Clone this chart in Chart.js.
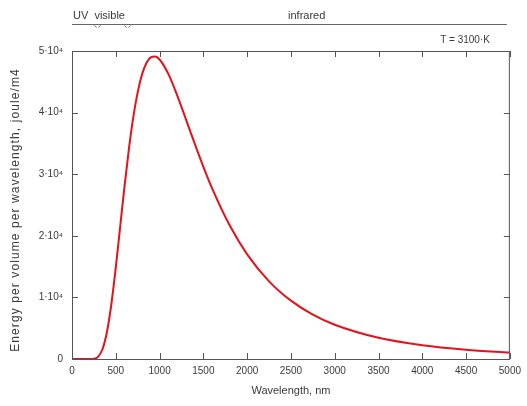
<!DOCTYPE html>
<html>
<head>
<meta charset="utf-8">
<script src="https://cdn.jsdelivr.net/npm/chart.js@4"></script>
<style>
  html, body { margin: 0; padding: 0; background: #fff; }
  #wrap { width: 527px; height: 406px; }
</style>
</head>
<body>
<div id="wrap"><canvas id="c" width="527" height="406"></canvas></div>
<script>
// Rayonnement du corps noir, T = 3100 K
var wavelengths = [0, 100, 200, 250, 300, 350, 400, 450, 500, 550, 600, 650, 700, 750, 800, 850, 900, 950, 1000,
  1100, 1200, 1300, 1400, 1500, 1600, 1800, 2000, 2250, 2500, 2750, 3000, 3500, 4000, 4500, 5000];
var energy = [0, 0, 0, 40, 390, 1660, 4460, 8970, 14860, 21460, 28070, 34120, 39250, 43290, 46200, 48050, 48980, 49110, 48620,
  46280, 42840, 38950, 34990, 31200, 27700, 21700, 16990, 12610, 9470, 7200, 5560, 3440, 2230, 1500, 1040];
var xTicks = [0, 500, 1000, 1500, 2000, 2500, 3000, 3500, 4000, 4500, 5000];
var yTicks = [0, 10000, 20000, 30000, 40000, 50000];
var bandEdges = [290, 630];           // limites UV / visible / infrarouge sur le bandeau
var bandLabels = ["UV", "visible", "infrared"];
var tempLabel = "T = 3100\u00b7K";
var yTitle = "Energy per volume per wavelength, joule/m4";

var FONT = "'Liberation Sans', Arial, sans-serif";
var TXT = "#3a3a3a", CADRE = "#555", ROUGE = "#e4121b";

var cadre = {
  id: "cadre",
  afterDraw: function (chart) {
    var ctx = chart.ctx, a = chart.chartArea, sx = chart.scales.x, sy = chart.scales.y;
    ctx.save();
    ctx.strokeStyle = CADRE; ctx.lineWidth = 1;
    ctx.strokeRect(a.left + 0.5, a.top + 0.5, a.right - a.left - 1, a.bottom - a.top);
    // graduations intérieures
    ctx.beginPath();
    xTicks.forEach(function (v) {
      var px = Math.round(sx.getPixelForValue(v)) + 0.5;
      ctx.moveTo(px, a.bottom); ctx.lineTo(px, a.bottom - 6);
      ctx.moveTo(px, a.top); ctx.lineTo(px, a.top + 6);
    });
    yTicks.forEach(function (v) {
      var py = Math.round(sy.getPixelForValue(v)) + 0.5;
      ctx.moveTo(a.left, py); ctx.lineTo(a.left + 6, py);
      ctx.moveTo(a.right, py); ctx.lineTo(a.right - 6, py);
    });
    ctx.stroke();

    // bandeau du haut
    var yb = 24.5;
    ctx.strokeStyle = "#666";
    ctx.beginPath(); ctx.moveTo(a.left, yb); ctx.lineTo(a.right - 3, yb); ctx.stroke();
    ctx.beginPath();
    bandEdges.forEach(function (v) {
      var px = Math.round(sx.getPixelForValue(v)) + 0.5;
      ctx.moveTo(px - 3, yb + 1); ctx.lineTo(px - 1, yb + 3);
      ctx.moveTo(px + 3, yb + 1); ctx.lineTo(px + 1, yb + 3);
    });
    ctx.stroke();
    ctx.fillStyle = TXT;
    ctx.font = "11px " + FONT;
    ctx.textBaseline = "alphabetic";
    ctx.textAlign = "left";
    ctx.fillText(bandLabels[0], a.left + 1, 19);
    ctx.fillText(bandLabels[1], sx.getPixelForValue(bandEdges[0]) - 3, 19);
    ctx.textAlign = "center";
    ctx.fillText(bandLabels[2], sx.getPixelForValue(2680), 19);
    ctx.textAlign = "right";
    ctx.font = "10px " + FONT;
    ctx.fillText(tempLabel, a.right - 20, 43);

    // titre de l'axe y, lettres espacées comme sur l'original
    ctx.translate(16, (a.top + a.bottom) / 2 + 5);
    ctx.rotate(-Math.PI / 2);
    ctx.font = "12px " + FONT;
    ctx.letterSpacing = "1.1px";
    ctx.textAlign = "center";
    ctx.textBaseline = "middle";
    ctx.fillText(yTitle, 0, 0);
    ctx.restore();
  }
};

new Chart(document.getElementById("c"), {
  type: "line",
  data: {
    datasets: [{
      data: wavelengths.map(function (w, i) { return { x: w, y: energy[i] }; }),
      borderColor: ROUGE, borderWidth: 2, pointRadius: 0,
      cubicInterpolationMode: "monotone", fill: false
    }]
  },
  options: {
    responsive: false, animation: false,
    layout: { padding: { top: 51, right: 9, left: 0, bottom: 0 } },
    plugins: { legend: { display: false }, tooltip: { enabled: false } },
    scales: {
      x: {
        type: "linear", min: 0, max: 5000,
        afterBuildTicks: function (s) { s.ticks = xTicks.map(function (v) { return { value: v }; }); },
        afterFit: function (s) { s.height = 47; },
        grid: { drawOnChartArea: false, drawTicks: false },
        border: { display: false },
        ticks: {
          color: TXT, font: { size: 10, family: FONT }, padding: 6, maxRotation: 0, autoSkip: false,
          callback: function (v) { return String(v); }
        },
        title: { display: true, text: "Wavelength, nm", color: TXT, font: { size: 11, family: FONT }, padding: { top: 0, bottom: 8 } }
      },
      y: {
        min: 0, max: 50000,
        afterBuildTicks: function (s) { s.ticks = yTicks.map(function (v) { return { value: v }; }); },
        afterFit: function (s) { s.width = 72; },
        grid: { drawOnChartArea: false, drawTicks: false },
        border: { display: false },
        ticks: {
          color: TXT, font: { size: 10, family: FONT }, padding: 9,
          callback: function (v) { return v === 0 ? "0" : (v / 10000) + "\u00b710\u2074"; }
        },
        title: { display: false }
      }
    }
  },
  plugins: [cadre]
});
</script>
</body>
</html>
